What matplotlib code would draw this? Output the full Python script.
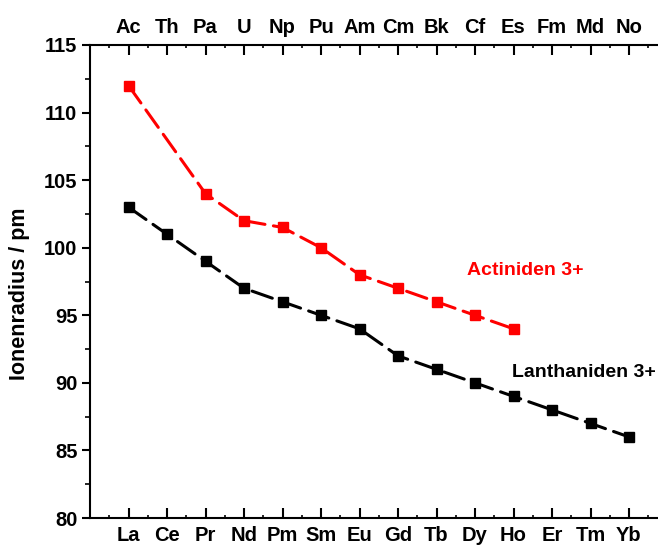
import numpy as np
import matplotlib
matplotlib.use("Agg")
import matplotlib.pyplot as plt
from matplotlib.ticker import MultipleLocator

plt.rcParams['font.family'] = ['Liberation Sans', 'DejaVu Sans']
plt.rcParams['font.weight'] = 'bold'

# -------- data ----------
lanthanides = ["La", "Ce", "Pr", "Nd", "Pm", "Sm", "Eu", "Gd", "Tb", "Dy", "Ho", "Er", "Tm", "Yb"]
actinides   = ["Ac", "Th", "Pa", "U", "Np", "Pu", "Am", "Cm", "Bk", "Cf", "Es", "Fm", "Md", "No"]

ln_pos    = [1, 2, 3, 4, 5, 6, 7, 8, 9, 10, 11, 12, 13, 14]
ln_radius = [103, 101, 99, 97, 96, 95, 94, 92, 91, 90, 89, 88, 87, 86]

# Th has no value in the chart
an_pos    = [1, 3, 4, 5, 6, 7, 8, 9, 10, 11]
an_radius = [112, 104, 102, 101.5, 100, 98, 97, 96, 95, 94]

# -------- plot ----------
W, H = 658, 549
fig = plt.figure(figsize=(W / 100, H / 100), dpi=100)
# axes run past the right edge of the picture (cropped like the original)
ax = fig.add_axes([90 / W, 31 / H, 577.5 / W, 473 / H])

line_kw = dict(lw=2.2, dashes=(7, 2.8), dash_capstyle='round',
               marker='s', markersize=6.5)
ax.plot(an_pos, an_radius, color='red', **line_kw)
ax.plot(ln_pos, ln_radius, color='black', **line_kw)

ax.set_xlim(0, 15)
ax.set_ylim(80, 115)

ax.set_xticks(ln_pos)
ax.set_xticklabels(lanthanides)
ax.xaxis.set_minor_locator(MultipleLocator(0.5))
ax.yaxis.set_major_locator(MultipleLocator(5))
ax.yaxis.set_minor_locator(MultipleLocator(2.5))

top = ax.secondary_xaxis('top')
top.set_xticks(ln_pos)
top.set_xticklabels(actinides)
top.xaxis.set_minor_locator(MultipleLocator(0.5))
top.tick_params(axis='x', which='major', direction='in', length=7, width=1.5,
                labelsize=14.5, pad=6)
top.tick_params(axis='x', which='minor', direction='in', length=2.5, width=1.2)
top.spines['top'].set_linewidth(1.5)

ax.tick_params(axis='x', which='major', direction='in', length=7, width=1.5,
               labelsize=14.5, pad=6)
ax.tick_params(axis='x', which='minor', direction='in', length=2.5, width=1.2)
ax.tick_params(axis='y', which='major', direction='out', length=6, width=1.5,
               labelsize=14.5, pad=3)
ax.tick_params(axis='y', which='minor', direction='out', length=3.5, width=1.2)

for side in ['left', 'bottom']:
    ax.spines[side].set_linewidth(1.5)
ax.spines['right'].set_visible(False)
ax.spines['top'].set_visible(False)

fig.text(20 / W, 1 - 293.5 / H, "Ionenradius / pm", rotation=90,
         ha='center', va='center', fontsize=15.5, fontweight='bold')

ax.text(9.8, 98.35, "Actiniden 3+", color='red', fontsize=14,
        fontweight='bold', ha='left', va='center')
ax.text(10.97, 90.8, "Lanthaniden 3+", color='black', fontsize=14,
        fontweight='bold', ha='left', va='center')

plt.savefig("out.png", dpi=100)
